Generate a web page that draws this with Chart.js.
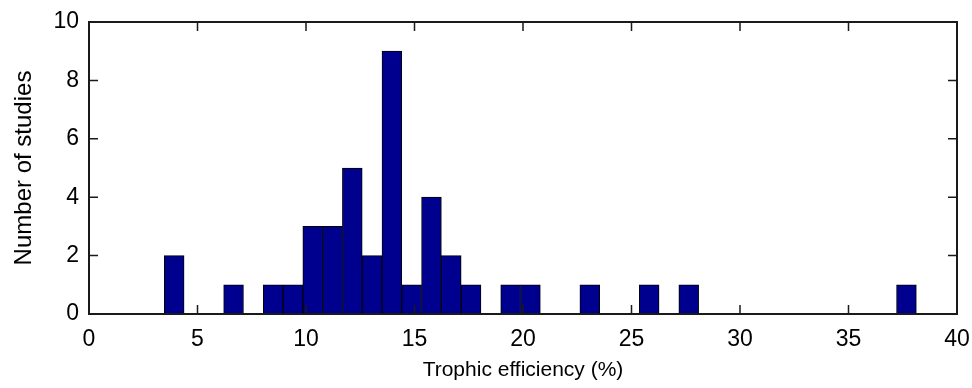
<!DOCTYPE html>
<html>
<head>
<meta charset="utf-8">
<script src="https://cdn.jsdelivr.net/npm/chart.js@4"></script>
<style>
  body { margin: 0; background: #fff; }
  canvas { display: block; }
</style>
</head>
<body>
<canvas id="hist" width="972" height="388"></canvas>
<script>
// bin centres (% trophic efficiency) and number of studies per bin
const binCenters = [
  3.926, 4.838, 5.750, 6.662, 7.574, 8.486, 9.398, 10.310, 11.222, 12.134,
  13.046, 13.958, 14.870, 15.782, 16.694, 17.606, 18.518, 19.430, 20.342, 21.254,
  22.166, 23.078, 23.990, 24.902, 25.814, 26.726, 27.638, 28.550, 29.462, 30.374,
  31.286, 32.198, 33.110, 34.022, 34.934, 35.846, 36.758, 37.670
];
const studyCounts = [
  2, 0, 0, 1, 0, 1, 1, 3, 3, 5,
  2, 9, 1, 4, 2, 1, 0, 1, 1, 0,
  0, 1, 0, 0, 1, 0, 1, 0, 0, 0,
  0, 0, 0, 0, 0, 0, 0, 1
];
const xTicks = [0, 5, 10, 15, 20, 25, 30, 35, 40];
const yTicks = [0, 2, 4, 6, 8, 10];

const sans = "'Liberation Sans', Arial, Helvetica, sans-serif";

// matlab style box with inward ticks on all four sides
const frame = {
  id: "frame",
  afterDatasetsDraw(chart) {
    const { ctx, chartArea: a, scales: { x, y } } = chart;
    const len = 9;
    ctx.save();
    ctx.strokeStyle = "#1a1a1a";
    ctx.lineWidth = 1.5;
    ctx.beginPath();
    xTicks.forEach((v) => {
      const px = x.getPixelForValue(v);
      ctx.moveTo(px, a.bottom);
      ctx.lineTo(px, a.bottom - len);
      ctx.moveTo(px, a.top);
      ctx.lineTo(px, a.top + len);
    });
    yTicks.forEach((v) => {
      const py = y.getPixelForValue(v);
      ctx.moveTo(a.left, py);
      ctx.lineTo(a.left + len, py);
      ctx.moveTo(a.right, py);
      ctx.lineTo(a.right - len, py);
    });
    ctx.stroke();
    ctx.lineWidth = 2;
    ctx.strokeRect(a.left, a.top, a.right - a.left, a.bottom - a.top);
    ctx.restore();
  },
};

const ctx = document.getElementById("hist");

new Chart(ctx, {
  type: "bar",
  data: {
    datasets: [
      {
        data: binCenters.map((c, i) => ({ x: c, y: studyCounts[i] })),
        backgroundColor: "#00008f",
        borderColor: "#000000",
        borderWidth: 1,
        barPercentage: 1,
        categoryPercentage: 1,
      },
    ],
  },
  options: {
    responsive: false,
    animation: false,
    layout: { padding: { left: 0, top: 22, right: 15, bottom: 0 } },
    plugins: {
      legend: { display: false },
      tooltip: { enabled: false },
    },
    scales: {
      x: {
        type: "linear",
        offset: false,
        min: 0,
        max: 40,
        afterBuildTicks: (s) => { s.ticks = xTicks.map((v) => ({ value: v })); },
        afterFit: (s) => {
          s.height = 74;
          s.paddingLeft = 0;
          s.paddingRight = 0;
        },
        grid: { display: false, drawTicks: false },
        border: { display: false },
        ticks: {
          padding: 12,
          color: "#000",
          font: { family: sans, size: 23 },
          maxRotation: 0,
        },
        title: {
          display: true,
          text: "Trophic efficiency (%)",
          color: "#000",
          font: { family: sans, size: 21 },
          padding: { top: 0, bottom: 5 },
        },
      },
      y: {
        min: 0,
        max: 10,
        afterBuildTicks: (s) => { s.ticks = yTicks.map((v) => ({ value: v })); },
        afterFit: (s) => {
          s.width = 89;
          s.paddingTop = 0;
          s.paddingBottom = 0;
        },
        grid: { display: false, drawTicks: false },
        border: { display: false },
        ticks: {
          padding: 10,
          color: "#000",
          font: { family: sans, size: 23 },
        },
        title: {
          display: true,
          text: "Number of studies",
          color: "#000",
          font: { family: sans, size: 24 },
          padding: { top: 10, bottom: 0 },
        },
      },
    },
  },
  plugins: [frame],
});
</script>
</body>
</html>
